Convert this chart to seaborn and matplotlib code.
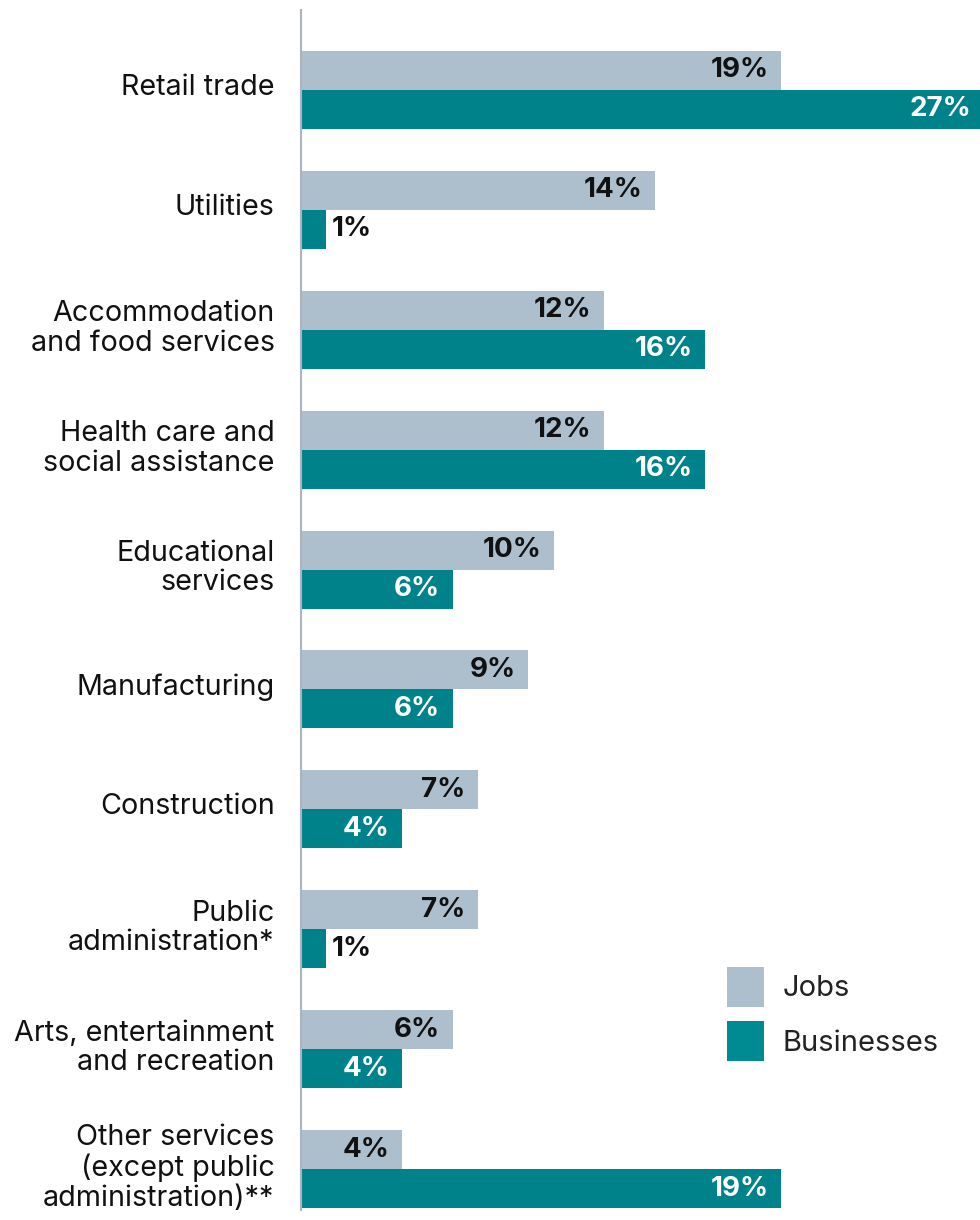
import pandas as pd
import seaborn as sns
import matplotlib.pyplot as plt
from matplotlib.transforms import ScaledTranslation

categories = [
    "Retail trade",
    "Utilities",
    "Accommodation\nand food services",
    "Health care and\nsocial assistance",
    "Educational\nservices",
    "Manufacturing",
    "Construction",
    "Public\nadministration*",
    "Arts, entertainment\nand recreation",
    "Other services\n(except public\nadministration)**",
]
jobs = [19, 14, 12, 12, 10, 9, 7, 7, 6, 4]
businesses = [27, 1, 16, 16, 6, 6, 4, 1, 4, 19]
series = ["Jobs", "Businesses"]
colors = ["#adbfcd", "#00828a"]

df = pd.DataFrame({
    "category": categories * 2,
    "share": jobs + businesses,
    "series": [series[0]] * len(jobs) + [series[1]] * len(businesses),
})

sns.set_style("white")
plt.rcParams["font.family"] = ["Inter", "DejaVu Sans"]

fig = plt.figure(figsize=(9.8, 12.2), dpi=100)
ax = fig.add_axes([301 / 980, 10 / 1220, 679 / 980, 1200 / 1220])

sns.barplot(data=df, y="category", x="share", hue="series", orient="h",
            palette=colors, width=0.65, saturation=1, linewidth=0, ax=ax)

ax.set_xlim(0, 26.87)
ax.set_ylim(9 + 41 / 120, -80 / 120)
ax.set_xlabel("")
ax.set_ylabel("")
ax.set_xticks([])
ax.tick_params(axis="y", length=0, pad=19, labelsize=20.7, labelcolor="#111111")
shift = ScaledTranslation(0, 4 / 72, fig.dpi_scale_trans)
for lbl in ax.get_yticklabels():
    lbl.set_linespacing(1.12)
    lbl.set_transform(lbl.get_transform() + shift)
for s in ["top", "right", "bottom"]:
    ax.spines[s].set_visible(False)
ax.spines["left"].set_color("#a9b6c2")
ax.spines["left"].set_linewidth(1.5)

# value labels
for i, (cont, vals) in enumerate(zip(ax.containers, [jobs, businesses])):
    for bar, v in zip(cont, vals):
        y = bar.get_y() + bar.get_height() / 2
        x = bar.get_width()
        if v < 2:
            ax.annotate(f"{v}%", (x, y), xytext=(4, 0), textcoords="offset points",
                        ha="left", va="center", fontsize=20, fontweight="bold",
                        color="#111111")
        else:
            txt_color = "#111111" if i == 0 else "white"
            ax.annotate(f"{v}%", (x, y), xytext=(-9, 0), textcoords="offset points",
                        ha="right", va="center", fontsize=20, fontweight="bold",
                        color=txt_color, annotation_clip=False)

leg = ax.legend(loc="upper left", bbox_to_anchor=(724 / 980, 1 - 964 / 1220),
                bbox_transform=fig.transFigure, frameon=False, fontsize=21,
                handlelength=1.28, handleheight=1.72, handletextpad=0.62,
                labelspacing=0.5, borderaxespad=0, borderpad=0.1,
                labelcolor="#222222")
leg.legend_handles[1].set_color("#008b93")

fig.savefig("out.png", dpi=100)
